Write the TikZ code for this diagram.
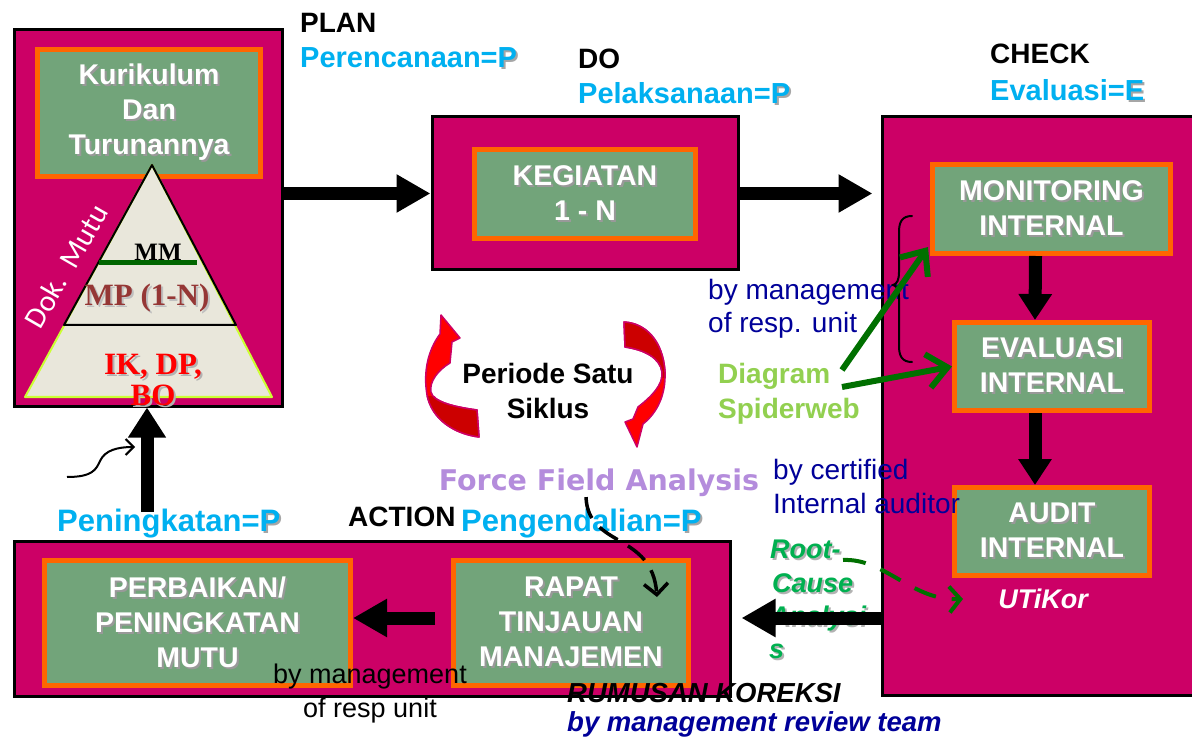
\documentclass[tikz,border=0pt]{standalone}
\usepackage{fontspec}
\setmainfont{Liberation Sans}
\newfontfamily\timesf{Liberation Serif}
\newfontfamily\heavyf{DejaVu Sans}
\newfontfamily\calib{Carlito}
\usetikzlibrary{arrows.meta,calc}

\definecolor{magbox}{HTML}{CC0066}
\definecolor{grbox}{HTML}{72A47A}
\definecolor{orbox}{HTML}{FF6600}
\definecolor{cyanlbl}{HTML}{00B0F0}
\definecolor{navy}{HTML}{000099}
\definecolor{lavender}{HTML}{B48CDC}
\definecolor{lightgr}{HTML}{92D050}
\definecolor{darkgr}{HTML}{007000}
\definecolor{rcgreen}{HTML}{00B050}
\definecolor{tribg}{HTML}{E9E7DB}
\definecolor{triedge}{HTML}{CCFF33}
\definecolor{mpred}{HTML}{953735}
\definecolor{arrred}{HTML}{FF0000}
\definecolor{arrdark}{HTML}{CC0000}
\definecolor{arredge}{HTML}{CC0066}
\definecolor{mmgreen}{HTML}{006600}

\newcommand\fsz[2]{\fontsize{#1}{#2}\selectfont}
% text with a soft drop shadow
\newcommand\shd[2][black!40]{\leavevmode\rlap{\kern2pt\raisebox{-2pt}{\textcolor{#1}{#2}}}#2}

\tikzset{
  phase/.style={draw=black, line width=3pt, fill=magbox, inner sep=0pt},
  task/.style={draw=orbox, line width=5pt, fill=grbox, text=white,
    font=\fsz{28.5}{35}\bfseries, align=center, inner sep=0pt},
  blockarrow/.style={line width=13pt, -{Triangle[length=34pt,width=36pt]}},
  heading/.style={font=\fsz{28}{32}\bfseries, text=black, anchor=base west, inner sep=0pt},
  phaselbl/.style={font=\fsz{29}{32}\bfseries, text=cyanlbl, anchor=base west, inner sep=0pt},
  note/.style={font=\fsz{28}{32}, text=navy, anchor=base west, inner sep=0pt},
  rc/.style={font=\fsz{27}{32}\bfseries\itshape, text=rcgreen, anchor=base west, inner sep=0pt},
  spider/.style={line width=6pt, draw=darkgr, -{Straight Barb[length=20pt,width=34pt]}},
  redarrow/.style={fill=arrred, draw=arredge, line width=1.5pt, line join=round},
}

\begin{document}
\begin{tikzpicture}[x=1pt,y=-1pt]
\useasboundingbox (0,0) rectangle (1192,743);
\fill[white] (0,0) rectangle (1192,743);

% ---------- phase boxes ----------
\node[phase, minimum width=268pt, minimum height=376pt] (plan) at (148,218) {};
\node[phase, minimum width=306pt, minimum height=153pt] (do) at (585,193.5) {};
\node[phase, minimum width=318pt, minimum height=578pt] (check) at (1041,406) {};
\node[phase, minimum width=716pt, minimum height=155pt] (action) at (372,618.5) {};

% ---------- task boxes ----------
\node[task, minimum width=223pt, minimum height=127pt] (kur) at (149,113)
  {\shd{Kurikulum}\\\shd{Dan}\\\shd{Turunannya}};
\node[task, minimum width=221pt, minimum height=89pt] (keg) at (585,194)
  {\shd{KEGIATAN}\\\shd{1 - N}};
\node[task, minimum width=238pt, minimum height=89pt] (mon) at (1051.5,209)
  {\shd{MONITORING}\\\shd{INTERNAL}};
\node[task, minimum width=195pt, minimum height=88pt] (eva) at (1052,366.5)
  {\shd{EVALUASI}\\\shd{INTERNAL}};
\node[task, minimum width=195pt, minimum height=88pt] (aud) at (1052,531.5)
  {\shd{AUDIT}\\\shd{INTERNAL}};
\node[task, minimum width=306pt, minimum height=125pt] (perb) at (197.5,623)
  {\shd{PERBAIKAN/}\\\shd{PENINGKATAN}\\\shd{MUTU}};
\node[task, minimum width=235pt, minimum height=125pt] (rapat) at (571,623)
  {\shd{RAPAT}\\\shd{TINJAUAN}\\\shd{MANAJEMEN}};

% ---------- document pyramid ----------
\filldraw[fill=tribg, draw=triedge, line width=2pt, line join=round]
  (152,165) -- (25,397) -- (272,397) -- cycle;
\draw[black, line width=2pt, line join=round] (152,165) -- (64,325) -- (236,325) -- cycle;
\draw[mmgreen, line width=5pt] (99,263) -- (197,263);
\node[font=\timesf\bfseries\fsz{25}{25}, text=black, inner sep=0pt] (mm) at (158,252) {MM};
\node[font=\timesf\bfseries\fsz{31}{31}, text=mpred, inner sep=0pt] (mp) at (147,299) {\shd[black!25]{MP (1-N)}};
\node[font=\timesf\bfseries\fsz{31}{31}, text=red, align=center, inner sep=0pt] (ik) at (153,381)
  {\shd[black!30]{IK, DP,}\\\shd[black!30]{BO}};
\node[font=\calib\fsz{30}{30}, text=white, rotate=60, inner sep=0pt] (dok) at (66,266) {Dok.\hspace{0.45em}Mutu};

% ---------- phase headings ----------
\node[heading] (hplan) at (300,33) {PLAN};
\node[phaselbl] (lplan) at (300,68) {Perencanaan=\shd[black!35]{P}};
\node[heading] (hdo) at (578,69) {DO};
\node[phaselbl] (ldo) at (578,104) {Pelaksanaan=\shd[black!35]{P}};
\node[heading] (hcheck) at (990,64) {CHECK};
\node[phaselbl] (lcheck) at (990,101) {Evaluasi=\shd[black!35]{E}};
\node[heading] (hact) at (348,526) {ACTION};
\node[phaselbl, font=\fsz{31}{32}\bfseries] (lact) at (461,531) {Pengendalian=\shd[black!35]{P}};
\node[phaselbl, font=\fsz{31}{32}\bfseries] (limp) at (57,531) {Peningkatan=\shd[black!35]{P}};

% ---------- cycle arrows ----------
\path[redarrow] (441,315) -- (460,338) -- (452,342) -- (450,363)
  .. controls (438,370) and (429,382) .. (431,392)
  .. controls (433,402) and (455,407) .. (477,410) -- (479,437)
  .. controls (455,434) and (432,420) .. (427,395)
  .. controls (423,372) and (428,350) .. (440,334) -- cycle;
\begin{scope}
  \clip (400,397) rectangle (500,450);
  \path[redarrow, fill=arrdark] (441,315) -- (460,338) -- (452,342) -- (450,363)
    .. controls (438,370) and (429,382) .. (431,392)
    .. controls (433,402) and (455,407) .. (477,410) -- (479,437)
    .. controls (455,434) and (432,420) .. (427,395)
    .. controls (423,372) and (428,350) .. (440,334) -- cycle;
\end{scope}
\path[redarrow] (624,322) .. controls (645,323) and (663,340) .. (665,372)
  .. controls (666,395) and (657,413) .. (643,424) -- (637,447) -- (625,422)
  -- (633,419) -- (638,407)
  .. controls (652,396) and (663,385) .. (662,372)
  .. controls (660,358) and (645,350) .. (625,347) -- cycle;
\begin{scope}
  \clip (600,300) rectangle (700,378);
  \path[redarrow, fill=arrdark] (624,322) .. controls (645,323) and (663,340) .. (665,372)
    .. controls (666,395) and (657,413) .. (643,424) -- (637,447) -- (625,422)
    -- (633,419) -- (638,407)
    .. controls (652,396) and (663,385) .. (662,372)
    .. controls (660,358) and (645,350) .. (625,347) -- cycle;
\end{scope}
\node[font=\fsz{28}{35}\bfseries, align=center, inner sep=0pt] (cycle) at (548,391) {Periode Satu\\Siklus};

% ---------- free labels ----------
\node[font=\heavyf\bfseries\fsz{28.5}{30}, text=lavender, inner sep=0pt] (ffa) at (599,483) {Force Field Analysis};
\node[note] (n1a) at (708,300) {by management};
\node[note] (n1b) at (708,333) {of resp. unit};
\node[font=\fsz{28}{32}\bfseries, text=lightgr, anchor=base west, inner sep=0pt] (diag1) at (718,384) {Diagram};
\node[font=\fsz{28}{32}\bfseries, text=lightgr, anchor=base west, inner sep=0pt] (diag2) at (718,418) {Spiderweb};
\node[note] (n2a) at (773,479) {by certified};
\node[note] (n2b) at (773,513) {Internal auditor};
\node[rc] (rc1) at (770,558) {\shd[black!30]{Root-}};
\node[rc] (rc2) at (772,592) {\shd[black!30]{Cause}};
\node[rc] (rc3) at (770,625) {\shd[black!30]{Analysi}};
\node[rc] (rc4) at (769,658) {\shd[black!30]{s}};
\node[font=\fsz{27}{32}\bfseries\itshape, text=white, anchor=base, inner sep=0pt] (utk) at (1043,608) {UTiKor};
\node[font=\fsz{27.5}{32}\bfseries\itshape, text=black, anchor=base west, inner sep=0pt] (rum) at (567,702) {RUMUSAN KOREKSI};
\node[font=\fsz{27.5}{32}\bfseries\itshape, text=navy, anchor=base west, inner sep=0pt] (rteam) at (567,731) {by management review team};
\node[font=\fsz{27}{32}, text=black, anchor=base, inner sep=0pt] (n3a) at (370,683) {by management};
\node[font=\fsz{27}{32}, text=black, anchor=base, inner sep=0pt] (n3b) at (370,717) {of resp unit};

% ---------- main flow ----------
\draw[blockarrow] (plan.east |- do.west) -- (do.west);
\draw[blockarrow] (do.east) -- ($(check.west |- do.east)+(-8,0)$);
\draw[blockarrow] ($(check.west |- rapat.center)+(0,-5)$) -- ($(action.east |- rapat.center)+(10,-5)$);
\draw[blockarrow] ($(rapat.west)+(-16,-5)$) -- ($(perb.east)+(0,-5)$);
\coordinate (upfoot) at (147,512);
\draw[blockarrow, -{Triangle[length=30pt,width=36pt]}] (upfoot) -- (upfoot |- plan.south);
\draw[blockarrow, -{Triangle[length=26pt,width=32pt]}] ($(mon.south)+(-16,0)$) -- ($(eva.north)+(-17,0)$);
\draw[blockarrow, -{Triangle[length=26pt,width=32pt]}] ($(eva.south)+(-17,0)$) -- ($(aud.north)+(-17,0)$);

% ---------- annotations ----------
\draw[black, line width=2pt, line cap=round]
  (912,216) .. controls (902,216) and (899,222) .. (899,232) -- (899,272)
  .. controls (899,280) and (897,284) .. (893,285)
  .. controls (897,286) and (899,290) .. (899,298) -- (899,346)
  .. controls (899,356) and (902,362) .. (912,362);
\coordinate (sw1) at (842,370);
\coordinate (sw2) at (842,387);
\draw[spider] (sw1) -- ($(mon.south west)+(-2,-9)$);
\draw[spider] (sw2) -- (eva.west);

\coordinate (rcstart) at (843,560);
\coordinate (rcend) at (963,599);
\draw[darkgr, line width=4pt, dash pattern=on 23pt off 16pt, -{Straight Barb[length=11pt,width=26pt]}]
  (rcstart) .. controls (885,558) and (912,601) .. (rcend);

\coordinate (ffafoot) at (657,597);
\draw[black, line width=3.5pt, dash pattern=on 22pt off 12pt, -{Straight Barb[length=11pt,width=24pt]}]
  ($(ffa.south)+(-13,0)$) .. controls (588,548) and (652,532) .. (ffafoot);

\coordinate (curlstart) at (67,477);
\coordinate (curlend) at (135,447);
\draw[black, line width=2pt, -{Straight Barb[length=8pt,width=16pt]}]
  (curlstart) .. controls (92,477) and (96,470) .. (100,461)
  .. controls (105,450) and (118,447) .. (curlend);
\end{tikzpicture}
\end{document}
